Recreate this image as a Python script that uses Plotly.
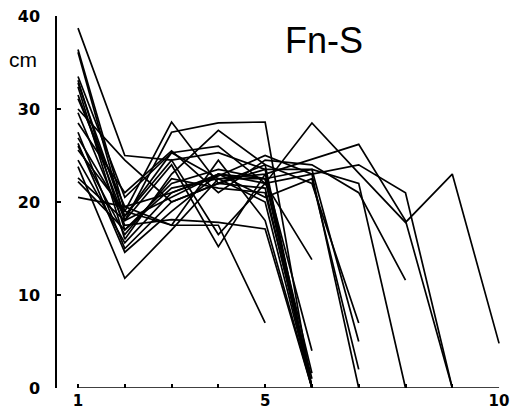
import plotly.graph_objects as go

# Each list: values at x = 1, 2, 3, ... (cm)
series = {
    "A": [38.7, 25.0, 24.5, 25.3, 23.5, 0.0],
    "B": [36.4, 19.0, 28.6, 22.0, 24.0, 0.0],
    "C": [36.1, 18.0, 27.5, 28.5, 28.6, 0.0],
    "D": [33.5, 20.5, 25.3, 26.0, 22.0, 28.5, 23.1, 17.8, 23.0, 4.8],
    "E": [33.1, 17.0, 22.0, 23.5, 22.5, 1.6],
    "F": [32.8, 18.5, 25.3, 22.5, 23.0, 24.6, 26.2, 18.0, 0.0],
    "G": [32.4, 16.0, 23.0, 27.7, 24.0, 22.0, 7.0],
    "H": [31.1, 19.5, 21.0, 23.0, 22.5, 23.5, 5.0],
    "I": [29.6, 17.5, 18.1, 17.8, 17.1, 0.0],
    "J": [27.5, 15.0, 20.0, 22.0, 21.5, 0.0],
    "K": [26.9, 18.5, 24.5, 16.5, 22.0, 13.8],
    "L": [26.3, 14.6, 19.0, 23.0, 20.5, 22.5, 2.0],
    "M": [25.6, 19.0, 17.5, 17.5, 7.0],
    "N": [23.8, 11.8, 17.0, 22.5, 22.5, 0.0],
    "O": [22.6, 18.0, 24.0, 15.2, 23.0, 4.0],
    "P": [22.2, 17.0, 21.5, 22.5, 20.0, 0.0],
    "Q": [20.5, 19.5, 17.5, 24.5, 18.0, 0.0],
    "R": [30.0, 24.5, 20.0, 22.0, 23.5, 23.5, 22.0, 0.0],
    "S": [28.5, 21.0, 25.5, 21.0, 24.5, 24.0, 21.0, 11.6],
    "T": [24.5, 15.6, 21.0, 22.8, 25.0, 23.0, 0.0],
    "U": [31.5, 18.0, 20.5, 23.0, 22.0, 23.0, 24.0, 21.0, 0.0],
    "V": [26.0, 16.5, 22.5, 21.5, 21.0, 1.0],
}

x_ticks = [1, 2, 3, 4, 5, 6, 7, 8, 9, 10]
x_ticktext = ["1", "", "", "", "5", "", "", "", "", "10"]
y_ticks = [0, 10, 20, 30, 40]

fig = go.Figure()
for name, vals in series.items():
    fig.add_trace(go.Scatter(
        x=list(range(1, len(vals) + 1)), y=vals, mode="lines",
        line=dict(color="black", width=1.7), name=name,
        showlegend=False, hoverinfo="skip"))

ytickfont = dict(family="DejaVu Sans", size=16, color="black", weight="bold")
xtickfont = dict(family="DejaVu Sans", size=15, color="black", weight="bold")

fig.update_layout(
    width=510, height=419,
    margin=dict(l=57, r=10, t=16, b=31),
    paper_bgcolor="white", plot_bgcolor="white",
    xaxis=dict(range=[0.551, 10.02], tickvals=x_ticks, ticktext=x_ticktext,
               ticks="inside", ticklen=4, tickwidth=1.5, tickcolor="black",
               showline=False, showgrid=False, zeroline=False,
               tickfont=xtickfont, ticklabelstandoff=2,
               ticklabeloverflow="allow", automargin=False),
    yaxis=dict(range=[0, 40], tickvals=y_ticks, ticks="inside", ticklen=4,
               tickwidth=1.5, tickcolor="black", showline=True,
               linecolor="black", linewidth=1.5, showgrid=False,
               zeroline=False, tickfont=ytickfont, ticklabelstandoff=12,
               ticklabeloverflow="allow", automargin=False),
    shapes=[dict(type="line", xref="x", yref="y", x0=1, x1=10, y0=0, y1=0,
                 line=dict(color="black", width=1.5))],
    annotations=[
        dict(text="cm", xref="paper", yref="paper", x=-0.0766, y=0.884,
             showarrow=False, xanchor="center", yanchor="middle",
             font=dict(family="Liberation Sans", size=21, color="black")),
        dict(text="Fn-S", xref="paper", yref="paper", x=0.603, y=0.935,
             showarrow=False, xanchor="center", yanchor="middle",
             font=dict(family="Liberation Sans", size=36, color="black")),
    ],
)

fig.write_html("out.html",
               config={"displayModeBar": False},
               post_script="document.body.style.margin='0';"
                           "document.body.style.overflow='hidden';")
